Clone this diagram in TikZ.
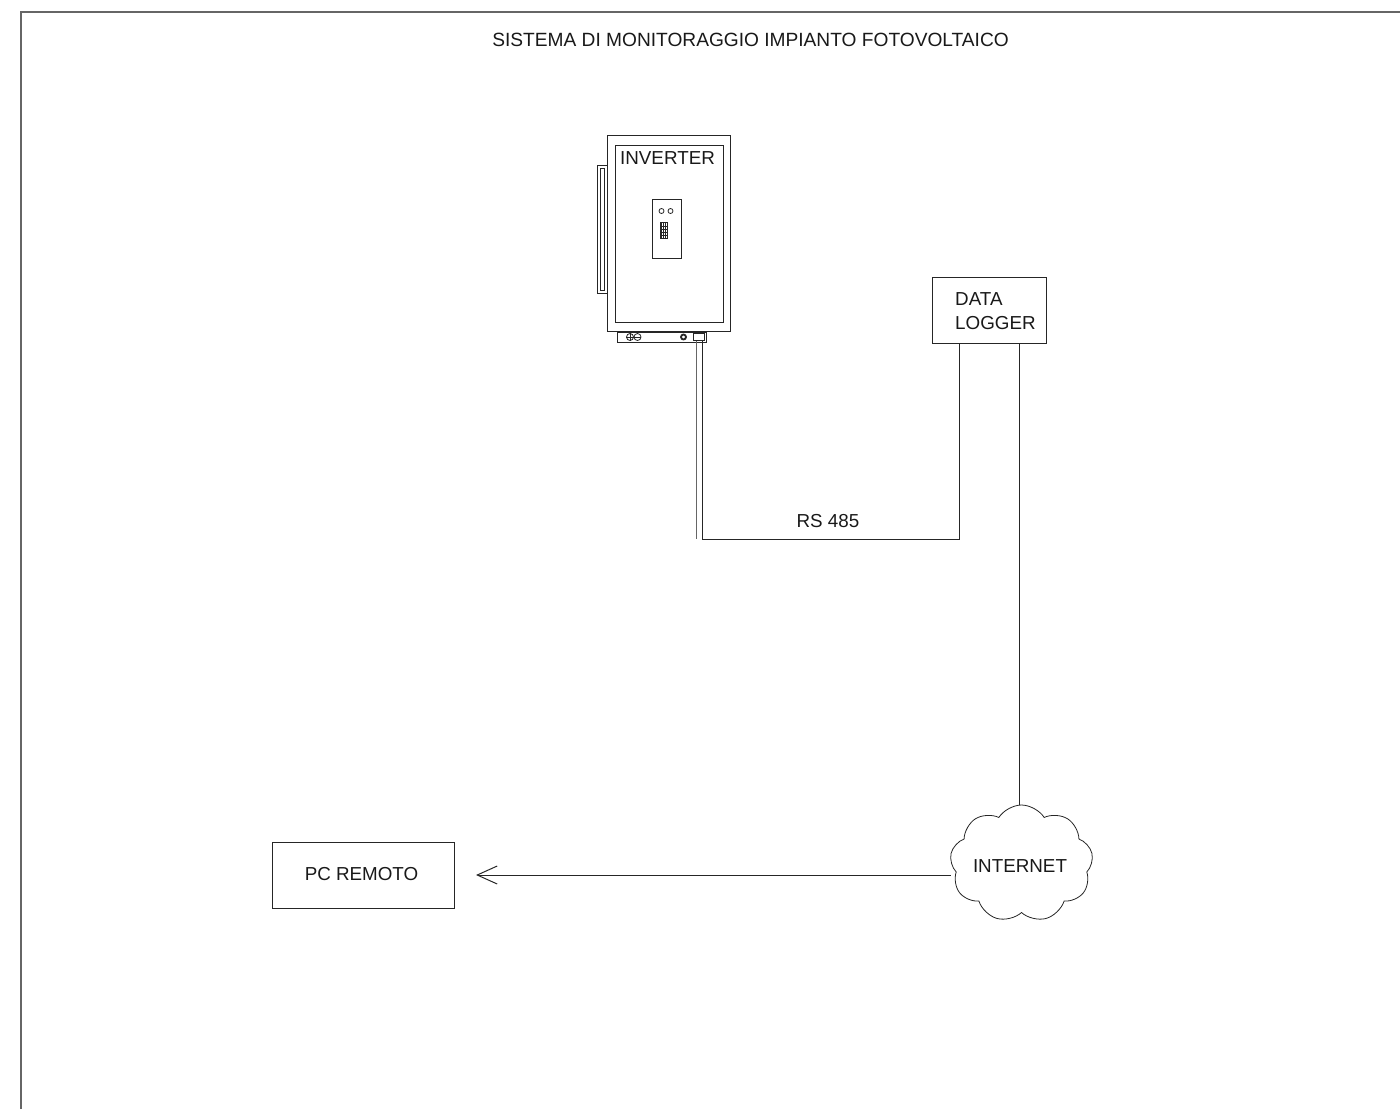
\documentclass[tikz,border=0pt]{standalone}
\usepackage{fontspec}
\setmainfont{Liberation Sans}
\usetikzlibrary{shapes.symbols,arrows.meta}
\begin{document}
\begin{tikzpicture}[x=1pt,y=-1pt,
  ln/.style={draw=black!85,line width=1pt},
  thin/.style={draw=black!85,line width=0.8pt},
  lbl/.style={font=\fontsize{18.8}{24}\selectfont, inner sep=0pt, text=black!90},
  box/.style={ln, rectangle, inner sep=0pt},
  sbox/.style={thin, rectangle, inner sep=0pt},
]
\useasboundingbox (0,0) rectangle (1400,1109);
% frame
\draw[draw=black!60, line width=1.6pt] (21,1109) -- (21,12) -- (1400,12);
\node[lbl, font=\fontsize{19.15}{24}\selectfont, anchor=base] (title) at (750.5,46.7) {SISTEMA DI MONITORAGGIO IMPIANTO FOTOVOLTAICO};

% inverter
\node[box, minimum width=123, minimum height=196] (inv) at (668.5,233.5) {};
\node[box, minimum width=108, minimum height=177] (invin) at (669,233.5) {};
\node[lbl, anchor=base] (invlbl) at (667.5,164.7) {INVERTER};
\node[box, minimum width=10, minimum height=128] (bar) at (602,229) {};
\node[sbox, minimum width=4, minimum height=122] (barin) at (602,229) {};
\node[box, minimum width=29, minimum height=59] (panel) at (666.5,229) {};
\node[sbox, circle, minimum size=5] (led1) at (661.5,211) {};
\node[sbox, circle, minimum size=5] (led2) at (670.5,211) {};
\node[sbox, minimum width=6.5, minimum height=16] (conn) at (664,230.5) {};
\draw[thin] (conn.north west) ++(1,0) -- ++(0,16);
\foreach \xx in {663.3,665.3} \draw[thin] (\xx,222.5) -- (\xx,238.5);
\foreach \yy in {226.7,229.5,232.3,235} \draw[thin] (660.75,\yy) -- (667.25,\yy);
% bottom strip
\node[box, minimum width=89, minimum height=10] (strip) at (661.5,337) {};
\node[sbox, circle, minimum size=7] (plus) at (630,337) {};
\draw[thin] (plus.west) -- (plus.east) (plus.north) -- (plus.south);
\node[sbox, circle, minimum size=7] (minus) at (637.5,337) {};
\draw[thin] (minus.west) -- (minus.east);
\node[circle, draw=black!85, line width=1.8pt, minimum size=5, inner sep=0pt] (dot) at (683.5,337) {};
\node[box, minimum width=11, minimum height=7] (port) at (698.5,337) {};

% data logger
\node[box, minimum width=114, minimum height=66] (dl) at (989.5,310) {};
\node[lbl, anchor=base west] (dl1) at (955,305) {DATA};
\node[lbl, anchor=base west] (dl2) at (955,329) {LOGGER};
\coordinate (dlA) at ([xshift=-30.5pt]dl.south);
\coordinate (dlB) at ([xshift=29.5pt]dl.south);

% cable RS 485
\coordinate (cL) at (696,539);
\coordinate (cR) at (702,539);
\draw[ln, draw=black!60] (port.south -| cL) -- (cL);
\draw[ln] (port.south -| cR) -- (cR) -- (cR -| dlA) -- (dlA);
\node[lbl, anchor=base] (rs) at (828,527.7) {RS 485};

% internet cloud
\node[cloud, thin, cloud puffs=9, cloud puff arc=115, cloud ignores aspect,
      minimum width=143, minimum height=117, inner sep=0pt] (inet) at (1021.5,863.5) {};
\node[lbl, anchor=base] (inetlbl) at (1020,872) {INTERNET};
\draw[ln] (dlB) -- (dlB |- inet.north);

% PC remoto
\node[box, minimum width=182, minimum height=66] (pc) at (363.5,875) {};
\node[lbl, anchor=base] (pclbl) at (361.5,880) {PC REMOTO};
\draw[ln, -{Straight Barb[length=20pt,width=18pt]}] (inet.west |- pc.east) -- ([xshift=21pt]pc.east);
\end{tikzpicture}
\end{document}
